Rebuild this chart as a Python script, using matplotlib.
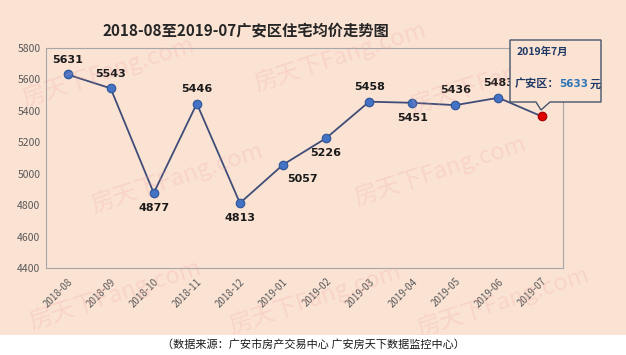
import numpy as np
import matplotlib
matplotlib.use("Agg")
import matplotlib.pyplot as plt
from matplotlib.patches import Polygon
from matplotlib.text import Annotation

plt.rcParams['font.family'] = ['Noto Sans CJK SC', 'DejaVu Sans']

# 数据
months = ["2018-08", "2018-09", "2018-10", "2018-11", "2018-12", "2019-01",
          "2019-02", "2019-03", "2019-04", "2019-05", "2019-06", "2019-07"]
prices = [5631, 5543, 4877, 5446, 4813, 5057, 5226, 5458, 5451, 5436, 5483, 5365]
labels = ["5631", "5543", "4877", "5446", "4813", "5057", "5226", "5458",
          "5451", "5436", "5483", None]
label_pos = ["up", "up", "down", "up", "down", "downright", "down", "up",
             "down", "up", "up", None]
yticks = [4400, 4600, 4800, 5000, 5200, 5400, 5600, 5800]

BG = "#FBE3D4"
LINE = "#3F4D78"
MARK = "#4472C4"

fig = plt.figure(figsize=(6.26, 3.55), dpi=100)
fig.patch.set_facecolor(BG)

# 水印
for (wx, wy) in [(0.03, 0.80), (0.40, 0.84), (0.65, 0.78), (0.14, 0.50),
                 (0.56, 0.52), (0.04, 0.17), (0.36, 0.16), (0.66, 0.15)]:
    fig.text(wx, wy, "房天下Fang.com", fontsize=17, color="#F0A0A0",
             alpha=0.22, rotation=18, ha="left", va="center", zorder=0)

ax = fig.add_axes([0.0735, 0.245, 0.826, 0.62])
ax.set_facecolor("none")
x = np.arange(len(months))

ax.plot(x, prices, color=LINE, lw=1.3, zorder=3)
ax.scatter(x[:-1], prices[:-1], s=38, color=MARK, edgecolor="#2F5597",
           linewidth=0.8, zorder=4)
ax.scatter(x[-1:], prices[-1:], s=38, color="#E00000", edgecolor="#A00000",
           linewidth=0.8, zorder=4)

for i, (v, lab, pos) in enumerate(zip(prices, labels, label_pos)):
    if lab is None:
        continue
    if pos == "up":
        ax.annotate(lab, (i, v), xytext=(0, 7), textcoords="offset points",
                    ha="center", va="bottom", fontsize=8, fontweight="bold",
                    color="#1a1a1a", family="DejaVu Sans")
    elif pos == "down":
        ax.annotate(lab, (i, v), xytext=(0, -7), textcoords="offset points",
                    ha="center", va="top", fontsize=8, fontweight="bold",
                    color="#1a1a1a", family="DejaVu Sans")
    else:
        ax.annotate(lab, (i, v), xytext=(14, -7), textcoords="offset points",
                    ha="center", va="top", fontsize=8, fontweight="bold",
                    color="#1a1a1a", family="DejaVu Sans")

ax.set_xlim(-0.5, len(months) - 0.5)
ax.set_ylim(4400, 5800)
ax.set_yticks(yticks)
ax.set_xticks(x)
ax.set_xticklabels(months, rotation=45, ha="right", rotation_mode="anchor",
                   fontsize=7, color="#595959")
ax.tick_params(axis="y", labelsize=7.5, colors="#595959", length=0, pad=4)
ax.tick_params(axis="x", length=0, pad=6)
for s in ax.spines.values():
    s.set_color("#A6A6A6")
    s.set_linewidth(0.8)

# 标题
fig.text(0.393, 0.915, "2018-08至2019-07广安区住宅均价走势图", ha="center",
         va="center", fontsize=11, fontweight="bold", color="#262626")

# 标注框
bx0, bx1, by0, by1 = 510 / 626, 601 / 626, 1 - 102 / 355, 1 - 40 / 355
px0, px1 = 536 / 626, 550 / 626
tipx, tipy = 541 / 626, 1 - 110 / 355
callout = Polygon([(bx0, by1), (bx1, by1), (bx1, by0), (px1, by0), (tipx, tipy),
                   (px0, by0), (bx0, by0)], closed=True, transform=fig.transFigure,
                  facecolor=BG, edgecolor="#44546A", linewidth=1.0, zorder=5)
fig.patches.append(callout)
fig.text(517 / 626, 1 - 52 / 355, "2019年7月", fontsize=7.5, fontweight="bold",
         color="#1F3864", ha="left", va="center", zorder=6)
t1 = fig.text(515 / 626, 1 - 84 / 355, "广安区：", fontsize=8, fontweight="bold",
              color="#1F3864", ha="left", va="center", zorder=6)
t2 = Annotation("5633", xy=(1, 0.5), xycoords=t1, xytext=(0, 0),
                textcoords="offset points", fontsize=7.5, fontweight="bold",
                color="#2E75B6", ha="left", va="center", zorder=6,
                family="DejaVu Sans")
fig.add_artist(t2)
t3 = Annotation("元", xy=(1, 0.5), xycoords=t2, xytext=(0.5, 0),
                textcoords="offset points", fontsize=8, fontweight="bold",
                color="#1F3864", ha="left", va="center", zorder=6)
fig.add_artist(t3)

# 底部来源
footer = plt.Rectangle((0, 0), 1, 20 / 355, transform=fig.transFigure,
                       facecolor="white", edgecolor="none", zorder=1)
fig.patches.append(footer)
fig.text(0.5, 10 / 355, "（数据来源：广安市房产交易中心 广安房天下数据监控中心）",
         ha="center", va="center", fontsize=8, color="#1a1a1a", zorder=2)

fig.savefig("out.png", dpi=100, facecolor=BG)
